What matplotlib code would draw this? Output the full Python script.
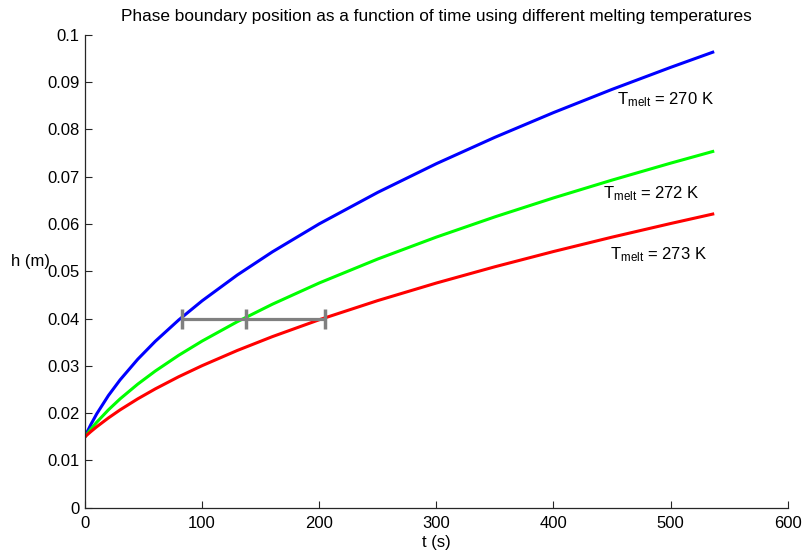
import matplotlib
matplotlib.use("Agg")
import matplotlib.pyplot as plt

plt.rcParams['font.family'] = ['Liberation Sans', 'DejaVu Sans']
plt.rcParams['mathtext.fontset'] = 'custom'
plt.rcParams['mathtext.rm'] = 'Liberation Sans'
plt.rcParams['mathtext.it'] = 'Liberation Sans'

# time samples (s)
t = [0, 2, 5, 10, 20, 30, 45, 60, 80, 100, 130, 160, 200, 250, 300, 350, 400, 450, 500, 536]
# phase boundary position (m)
h_270 = [0.0150, 0.01609, 0.01759, 0.01984, 0.02372, 0.02704, 0.03138, 0.03518, 0.03969, 0.04374,
         0.04919, 0.05409, 0.06001, 0.06667, 0.07273, 0.07831, 0.08353, 0.08844, 0.09309, 0.09630]
h_272 = [0.0150, 0.01566, 0.01661, 0.01807, 0.02069, 0.02302, 0.02612, 0.02889, 0.03222, 0.03523,
         0.03932, 0.04302, 0.04751, 0.05258, 0.05721, 0.06149, 0.06549, 0.06926, 0.07284, 0.07531]
h_273 = [0.0150, 0.01544, 0.01609, 0.01711, 0.01898, 0.02069, 0.02301, 0.02512, 0.02769, 0.03003,
         0.03324, 0.03617, 0.03974, 0.04379, 0.04750, 0.05094, 0.05416, 0.05720, 0.06008, 0.06208]

# gray marker line at h = 0.04
bar_t = [82.6, 137.2, 205.0]
bar_h = 0.04

labels = ['270 K', '272 K', '273 K']
label_pos = [(454, 0.0862), (442, 0.0665), (448, 0.0536)]

fig = plt.figure(figsize=(8.05, 5.57), dpi=100)
ax = fig.add_axes([0.1056, 0.0885, 0.8729, 0.8492])

ax.plot(t, h_270, color=(0, 0, 1), lw=2.2)
ax.plot(t, h_272, color=(0, 1, 0), lw=2.2)
ax.plot(t, h_273, color=(1, 0, 0), lw=2.2)

gray = (0.5, 0.5, 0.5)
ax.plot([bar_t[0], bar_t[-1]], [bar_h, bar_h], color=gray, lw=2.3, solid_capstyle='butt')
ax.plot(bar_t, [bar_h] * len(bar_t), ls='none', marker='|', ms=14, mew=2.5, color=gray)

for lab, (x, y) in zip(labels, label_pos):
    ax.text(x, y, r'T$_{\mathrm{melt}}$ = ' + lab, fontsize=12, va='center', ha='left')

ax.set_xlim(0, 600)
ax.set_ylim(0, 0.1)
ax.set_xticks([0, 100, 200, 300, 400, 500, 600])
ax.set_yticks([0, 0.01, 0.02, 0.03, 0.04, 0.05, 0.06, 0.07, 0.08, 0.09, 0.1])
ax.set_yticklabels(['0', '0.01', '0.02', '0.03', '0.04', '0.05', '0.06', '0.07', '0.08', '0.09', '0.1'])

for s in ['top', 'right']:
    ax.spines[s].set_visible(False)
for s in ['left', 'bottom']:
    ax.spines[s].set_linewidth(0.9)
    ax.spines[s].set_color('#262626')

ax.tick_params(direction='in', length=5, width=0.8, labelsize=12, color='#262626')
ax.tick_params(axis='x', pad=6)
ax.tick_params(axis='y', pad=4)

ax.set_title('Phase boundary position as a function of time using different melting temperatures',
             fontsize=12.4, pad=10)
ax.set_xlabel('t (s)', fontsize=12, labelpad=3)
ax.set_ylabel('h (m)', fontsize=12, rotation=0, va='baseline', ha='center')
ax.yaxis.set_label_coords(-0.078, 0.511, transform=ax.transAxes)

fig.savefig('out.png', dpi=100)
